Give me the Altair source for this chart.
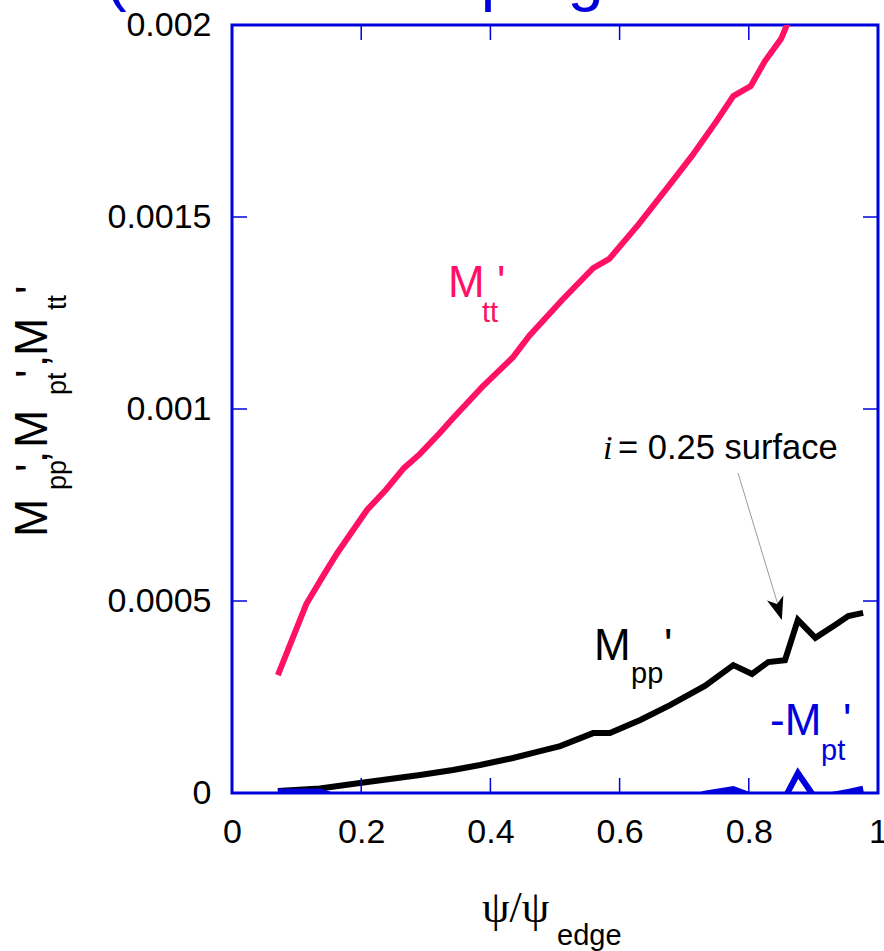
import altair as alt
import pandas as pd

# ---------------- data ----------------
tt_x = [0.071, 0.115, 0.142, 0.163, 0.209, 0.238, 0.266, 0.291, 0.322, 0.341, 0.387,
        0.435, 0.460, 0.511, 0.559, 0.584, 0.630, 0.677, 0.712, 0.749, 0.776, 0.803,
        0.825, 0.850, 0.859, 0.872]
tt_y = [0.000307, 0.000492, 0.000568, 0.000625, 0.000737, 0.000789, 0.000846, 0.000883,
        0.000938, 0.000974, 0.001057, 0.001135, 0.001190, 0.001284, 0.001367, 0.001391,
        0.001482, 0.001583, 0.001659, 0.001747, 0.001815, 0.001841, 0.001906, 0.001964,
        0.002000, 0.002120]

pp_x = [0.071, 0.136, 0.198, 0.291, 0.342, 0.384, 0.435, 0.477, 0.508, 0.559, 0.585,
        0.632, 0.678, 0.732, 0.776, 0.805, 0.830, 0.856, 0.876, 0.903, 0.933, 0.954, 0.977]
pp_y = [0.000005, 0.0000115, 0.000026, 0.0000469, 0.0000599, 0.0000729, 0.0000911,
        0.000109, 0.000122, 0.000156, 0.000156, 0.000190, 0.000229, 0.000279, 0.000333,
        0.000310, 0.000341, 0.000346, 0.000451, 0.000404, 0.000437, 0.000461, 0.000469]

pt_x = [0.071, 0.136, 0.198, 0.291, 0.384, 0.477, 0.559, 0.632, 0.678, 0.732, 0.776,
        0.805, 0.830, 0.856, 0.876, 0.903, 0.933, 0.954, 0.977]
pt_y = [0.000004, 0.000004, -0.00003, -0.00005, -0.00007, -0.00008, -0.00007, -0.00005,
        -0.00003, -0.000002, 0.0000104, -0.000008, -0.00002, -0.000012, 0.000052,
        -0.000014, -0.000004, 0.000003, 0.000011]

x_tick_values = [0, 0.2, 0.4, 0.6, 0.8, 1]
y_tick_values = [0, 0.0005, 0.001, 0.0015, 0.002]
x_inner_ticks = [0.2, 0.4, 0.6, 0.8]
y_inner_ticks = [0.0005, 0.001, 0.0015]

# ---------------- styling ----------------
W, H = 646, 768
PINK = "#FF1166"
BLUE = "#0000DD"
SANS = "Liberation Sans"
SERIF = "Liberation Serif"

xs = alt.Scale(domain=[0, 1], nice=False, zero=False)
ys = alt.Scale(domain=[0, 0.002], nice=False, zero=False)

axis_common = dict(domain=False, ticks=False, grid=False, labelFont=SANS,
                   labelFontSize=34, labelColor="black", labelFlush=False,
                   labelOverlap=False, format="~g", title=None)
X_AXIS = alt.Axis(values=x_tick_values, labelPadding=22, **axis_common)
Y_AXIS = alt.Axis(values=y_tick_values, labelPadding=21, **axis_common)


def series(xv, yv, color):
    df = pd.DataFrame({"x": xv, "y": yv})
    return alt.Chart(df).mark_line(color=color, strokeWidth=6, clip=True,
                                   strokeJoin="miter").encode(
        x=alt.X("x:Q", scale=xs, axis=X_AXIS),
        y=alt.Y("y:Q", scale=ys, axis=Y_AXIS))


def label(px, py, s, size, color, font=SANS, style="normal", angle=0):
    df = pd.DataFrame({"t": [s]})
    kw = dict(font=font, fontSize=size, color=color, align="left", baseline="alphabetic",
              fontStyle=style)
    if angle:
        kw["angle"] = angle
    return alt.Chart(df).mark_text(**kw).encode(
        x=alt.value(px), y=alt.value(py), text="t:N")


layers = [series(tt_x, tt_y, PINK), series(pp_x, pp_y, "black"), series(pt_x, pt_y, BLUE)]

# inward ticks on all four sides
xt = pd.DataFrame({"x": x_inner_ticks})
yt = pd.DataFrame({"y": y_inner_ticks})
for y0, y1 in [(H, H - 15), (0, 15)]:
    layers.append(alt.Chart(xt).mark_rule(color=BLUE, strokeWidth=1.5).encode(
        x=alt.X("x:Q", scale=xs, axis=X_AXIS), y=alt.value(y0), y2=alt.value(y1)))
for x0, x1 in [(0, 15), (W, W - 15)]:
    layers.append(alt.Chart(yt).mark_rule(color=BLUE, strokeWidth=1.5).encode(
        y=alt.Y("y:Q", scale=ys, axis=Y_AXIS), x=alt.value(x0), x2=alt.value(x1)))

# series labels (pixel offsets relative to the plot area)
layers += [
    label(216, 272, "M", 44, PINK), label(250, 297, "tt", 29, PINK), label(265, 272, "'", 44, PINK),
    label(362, 635, "M", 44, "black"), label(399, 658, "pp", 29, "black"), label(432, 635, "'", 44, "black"),
    label(538, 710, "-M", 44, BLUE), label(589, 735, "pt", 29, BLUE), label(611, 710, "'", 44, BLUE),
]

# annotation with arrow
layers.append(label(371, 434, "i", 34, "black", font=SERIF, style="italic"))
layers.append(label(386, 434, "= 0.25 surface", 34.5, "black"))
layers.append(alt.Chart(pd.DataFrame({"a": [0]})).mark_rule(color="#9a9a9a", strokeWidth=1).encode(
    x=alt.value(506), y=alt.value(448), x2=alt.value(546), y2=alt.value(580)))
layers.append(alt.Chart(pd.DataFrame({"a": [0]})).mark_point(
    shape="M 0 -1 L 0.75 1 L 0 0.45 L -0.75 1 Z", filled=True, color="black", opacity=1,
    size=520, angle=163).encode(x=alt.value(546.5), y=alt.value(584)))

# y axis title (rotated, composed of pieces)
yt_pieces = [
    (-185, 512, "M", 46), (-166, 465, "pp", 27), (-185, 447, "'", 44), (-185, 438, ",", 44),
    (-185, 423, "M", 46), (-166, 370, "pt", 27), (-185, 353, "'", 44), (-185, 342, ",", 44),
    (-185, 331, "M", 46), (-166, 285, "tt", 27), (-185, 269, "'", 44),
]
for px, py, s, fs in yt_pieces:
    layers.append(label(px, py, s, fs, "black", angle=270))

# x axis title
layers.append(label(250, 897, "\u03c8/\u03c8", 44, "black", font=SERIF))
layers.append(label(325, 920, "edge", 29, "black"))

# panel title, mostly above the visible page
layers.append(label(-127, -26, "(Without Shaping", 65, BLUE))

chart = alt.layer(*layers).properties(
    width=W, height=H,
    autosize=alt.AutoSizeParams(type="none"),
    padding={"left": 232, "top": 25, "right": 6, "bottom": 158},
).configure_view(stroke=BLUE, strokeWidth=3)

chart.save("out.html", embed_options={"renderer": "svg", "actions": False})
